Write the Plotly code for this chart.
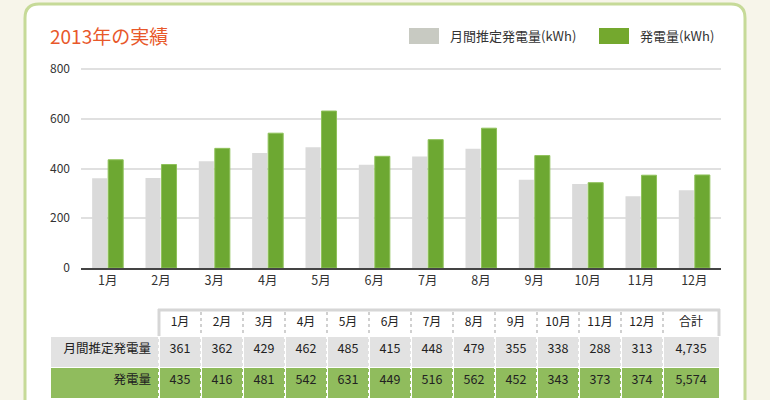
import plotly.graph_objects as go

months = ["1月", "2月", "3月", "4月", "5月", "6月", "7月", "8月", "9月", "10月", "11月", "12月"]
estimated = [361, 362, 429, 462, 485, 415, 448, 479, 355, 338, 288, 313]
generated = [435, 416, 481, 542, 631, 449, 516, 562, 452, 343, 373, 374]
row_labels = ["月間推定発電量", "発電量"]
total_label = "合計"
title_text = "2013年の実績"
legend_names = ["月間推定発電量(kWh)", "発電量(kWh)"]
y_ticks = [0, 200, 400, 600, 800]

W, H = 770, 400
FONT = "Noto Sans CJK JP"
GRAY_BAR = "#dadada"
GREEN_BAR = "#6da832"
ROW_GRAY = "#e2e2e2"
ROW_GREEN = "#90bc5d"


def px(x):
    return x / W


def py(y):
    return 1 - y / H


fig = go.Figure()

fig.add_trace(go.Bar(x=months, y=estimated, name=legend_names[0],
                     marker=dict(color=GRAY_BAR, line=dict(width=0)),
                     showlegend=False, hoverinfo="x+y"))
fig.add_trace(go.Bar(x=months, y=generated, name=legend_names[1],
                     marker=dict(color=GREEN_BAR, line=dict(width=1, color="#8fc15a")),
                     showlegend=False, hoverinfo="x+y"))

# table
header_vals = [""] + months + [total_label]
col_vals = [row_labels] + [[str(e), str(g)] for e, g in zip(estimated, generated)] + \
    [[f"{sum(estimated):,}", f"{sum(generated):,}"]]
colwidths = [109] + [42] * 12 + [56]
ncols = len(colwidths)
fig.add_trace(go.Table(
    domain=dict(x=[px(50), px(50 + sum(colwidths))], y=[py(398), py(309)]),
    columnwidth=colwidths,
    columnorder=list(range(ncols)),
    header=dict(values=header_vals,
                fill=dict(color="white"),
                line=dict(color="white", width=0),
                align="center",
                height=27,
                font=dict(family=FONT, size=12, color="#222")),
    cells=dict(values=col_vals,
               fill=dict(color=[[ROW_GRAY, ROW_GREEN]] * ncols),
               line=dict(color="white", width=1),
               align=["right"] + ["center"] * (ncols - 1),
               height=31,
               font=dict(family=FONT, size=12.5, color="#222")),
))

shapes = []
# white panel
x0, x1, y0, y1, r = 25, 745, 4, 430, 14
path = (f"M {px(x0 + r)} {py(y0)} L {px(x1 - r)} {py(y0)} "
        f"Q {px(x1)} {py(y0)} {px(x1)} {py(y0 + r)} L {px(x1)} {py(y1)} "
        f"L {px(x0)} {py(y1)} L {px(x0)} {py(y0 + r)} "
        f"Q {px(x0)} {py(y0)} {px(x0 + r)} {py(y0)} Z")
shapes.append(dict(type="path", path=path, xref="paper", yref="paper",
                   fillcolor="white", line=dict(color="#c6da98", width=3), layer="below"))

# legend swatches
shapes.append(dict(type="rect", xref="paper", yref="paper", x0=px(409), x1=px(439),
                   y0=py(44), y1=py(28), fillcolor="#c8cac2", line=dict(width=0)))
shapes.append(dict(type="rect", xref="paper", yref="paper", x0=px(599), x1=px(629),
                   y0=py(44), y1=py(28), fillcolor="#74a82e", line=dict(width=0)))

# table frame and dotted separators
tx0 = 50 + colwidths[0]
tx1 = 50 + sum(colwidths)
shapes.append(dict(type="line", xref="paper", yref="paper", x0=px(tx0 - 1), x1=px(tx1 + 1),
                   y0=py(310), y1=py(310), line=dict(color="#d6d6d6", width=3)))
for xx in (tx0, tx1):
    shapes.append(dict(type="line", xref="paper", yref="paper", x0=px(xx), x1=px(xx),
                       y0=py(309), y1=py(336), line=dict(color="#d6d6d6", width=3)))
cum = tx0
for w in colwidths[1:-1]:
    cum += w
    shapes.append(dict(type="line", xref="paper", yref="paper", x0=px(cum), x1=px(cum),
                       y0=py(312), y1=py(336), line=dict(color="#d0d0d0", width=2, dash="dot")))
    shapes.append(dict(type="line", xref="paper", yref="paper", x0=px(cum), x1=px(cum),
                       y0=py(336), y1=py(398), line=dict(color="white", width=2, dash="dot")))
shapes.append(dict(type="line", xref="paper", yref="paper", x0=px(tx0), x1=px(tx0),
                   y0=py(336), y1=py(398), line=dict(color="white", width=2, dash="dot")))

annotations = [
    dict(text=title_text, xref="paper", yref="paper", x=px(48), y=py(35),
         xanchor="left", yanchor="middle", showarrow=False,
         font=dict(family=FONT, size=19, color="#e8582a")),
    dict(text=legend_names[0], xref="paper", yref="paper", x=px(448), y=py(36),
         xanchor="left", yanchor="middle", showarrow=False,
         font=dict(family=FONT, size=13, color="#333")),
    dict(text=legend_names[1], xref="paper", yref="paper", x=px(638), y=py(36),
         xanchor="left", yanchor="middle", showarrow=False,
         font=dict(family=FONT, size=13, color="#333")),
]

# y scale: 0 at y=268px, 800 at y=69px; extend range so the 800 gridline is drawn
Y_MAX = 840
zero_px, top_px = 268, 69
y_top_px = zero_px - Y_MAX * (zero_px - top_px) / 800

fig.update_layout(
    template="none",
    width=W, height=H,
    margin=dict(l=0, r=0, t=0, b=0, autoexpand=False),
    paper_bgcolor="#f7f5ea",
    plot_bgcolor="rgba(0,0,0,0)",
    barmode="group", bargap=0.4, bargroupgap=0.06,
    shapes=shapes, annotations=annotations,
    font=dict(family=FONT, size=12, color="#333"),
    xaxis=dict(domain=[px(81), px(721)], showgrid=False, ticks="", automargin=False,
               showline=True, linecolor="#444", linewidth=1.5, zeroline=False,
               tickfont=dict(family=FONT, size=12.5, color="#333"), fixedrange=True),
    yaxis=dict(domain=[py(zero_px), py(y_top_px)], range=[0, Y_MAX], tickvals=y_ticks,
               automargin=False,
               showgrid=True, gridcolor="#e0e0e0", gridwidth=1.5, zeroline=False,
               showline=False, ticks="", ticklabelstandoff=10,
               tickfont=dict(family=FONT, size=12, color="#333"), fixedrange=True),
)

fig.write_html("out.html")
